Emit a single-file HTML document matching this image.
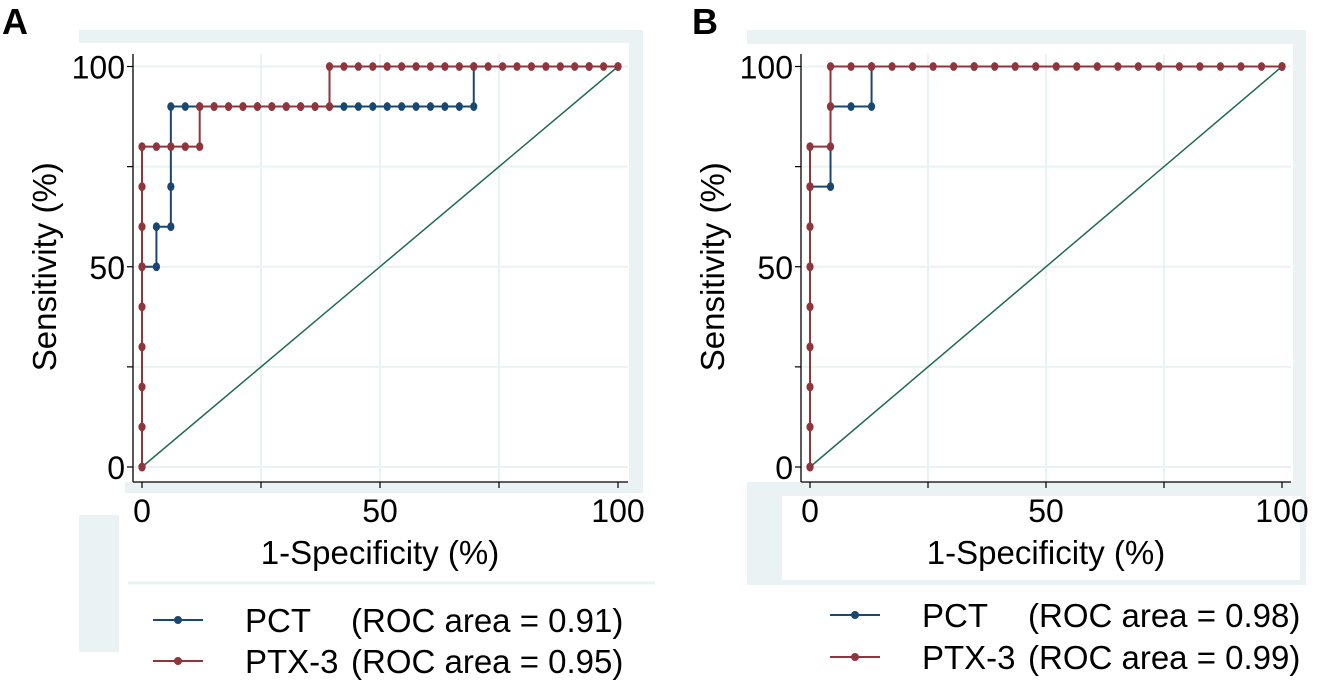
<!DOCTYPE html>
<html><head><meta charset="utf-8"><style>
html,body{margin:0;padding:0;background:#fff}
svg{display:block}
text{font-family:"Liberation Sans",Arial,sans-serif;fill:#000}
</style></head><body>
<svg id="s" width="1317" height="680" viewBox="0 0 1317 680" xmlns="http://www.w3.org/2000/svg">
<rect x="79" y="30" width="564" height="463" fill="#eaf2f3"/>
<rect x="125" y="43" width="504" height="439" fill="#fff"/>
<rect x="79" y="43" width="46" height="472" fill="#fff"/>
<rect x="79" y="515" width="40" height="137" fill="#eaf2f3"/>
<line x1="128" y1="583" x2="655" y2="583" stroke="#eaf2f3" stroke-width="3"/>
<rect x="747" y="30" width="559" height="555" fill="#eaf2f3"/>
<rect x="747" y="44" width="546" height="438" fill="#fff"/>
<rect x="782" y="496" width="518" height="84" fill="#fff"/>
<g id="g"></g>
<text x="2" y="34" font-size="36" font-weight="bold">A</text>
<text x="692" y="34" font-size="36" font-weight="bold">B</text>
</svg>
<script>
const NS="http://www.w3.org/2000/svg",g=document.getElementById('g');
function el(t,a,txt){const e=document.createElementNS(NS,t);for(const k in a)e.setAttribute(k,a[k]);if(txt!==undefined)e.textContent=txt;g.appendChild(e);return e;}
const BLUE="#1a476f",RED="#90353b",GRN="#1e6b52";
function panel(P){
 const X=v=>P.x0+(P.x1-P.x0)*v/100, Y=v=>P.y0+(P.y1-P.y0)*v/100;
 [0,25,50,75,100].forEach(v=>el('line',{x1:P.L,x2:P.R,y1:Y(v),y2:Y(v),stroke:"#eaf2f3","stroke-width":2}));
 [25,50,75].forEach(v=>el('line',{x1:X(v),x2:X(v),y1:P.T,y2:P.B,stroke:"#eaf2f3","stroke-width":2}));
 el('line',{x1:P.L,x2:P.L,y1:P.T,y2:P.B,stroke:"#000","stroke-width":1.3});
 el('line',{x1:P.L,x2:P.R,y1:P.B,y2:P.B,stroke:"#000","stroke-width":1.3});
 [0,25,50,75,100].forEach(v=>{el('line',{x1:P.L-6,x2:P.L,y1:Y(v),y2:Y(v),stroke:"#000","stroke-width":1.2});
   el('line',{x1:X(v),x2:X(v),y1:P.B,y2:P.B+6,stroke:"#000","stroke-width":1.2});});
 [0,50,100].forEach(v=>{el('text',{x:P.L-8,y:Y(v)+12,"font-size":32,"text-anchor":"end"},String(v));
   el('text',{x:X(v),y:P.B+40,"font-size":32,"text-anchor":"middle"},String(v));});
 el('text',{x:(X(0)+X(100))/2,y:P.B+82,"font-size":33,"text-anchor":"middle"},"1-Specificity (%)");
 el('text',{x:0,y:0,"font-size":33,"text-anchor":"middle",transform:`translate(${P.yl},${(Y(0)+Y(100))/2}) rotate(-90)`},"Sensitivity (%)");
 el('line',{x1:X(0),y1:Y(0),x2:X(100),y2:Y(100),stroke:GRN,"stroke-width":1.5});
 function series(pts,c){const d=pts.map((p,i)=>(i?'L':'M')+X(p[0]*100/P.n)+' '+Y(p[1])).join(' ');
  el('path',{d,fill:"none",stroke:c,"stroke-width":2});
  pts.forEach(p=>el('ellipse',{cx:X(p[0]*100/P.n),cy:Y(p[1]),rx:3.6,ry:4.4,fill:c}));}
 series(P.blue,BLUE);series(P.red,RED);
 [[BLUE,P.ly1,P.t1],[RED,P.ly2,P.t2]].forEach(([c,y,t])=>{
  el('line',{x1:P.lx,x2:P.lx+50,y1:y,y2:y,stroke:c,"stroke-width":2});
  el('circle',{cx:P.lx+25,cy:y,r:4,fill:c});
  el('text',{x:P.lx+92,y:y+12,"font-size":33},t[0]);
  el('text',{x:P.lx+198,y:y+12,"font-size":33},t[1]);});
}
let bA=[[0,0],[0,50],[1,50],[1,60],[2,60],[2,70],[2,90]];for(let k=3;k<=23;k++)bA.push([k,90]);bA.push([23,100],[31,100],[33,100]);
let rA=[];for(let v=0;v<=80;v+=10)rA.push([0,v]);for(let k=1;k<=4;k++)rA.push([k,80]);for(let k=4;k<=13;k++)rA.push([k,90]);for(let k=13;k<=33;k++)rA.push([k,100]);
panel({x0:142,x1:618,y0:467,y1:66.5,L:133,R:628,T:54,B:482,n:33,yl:56,blue:bA,red:rA,lx:153,ly1:620,ly2:661,
 t1:["PCT","(ROC area = 0.91)"],t2:["PTX-3","(ROC area = 0.95)"]});
let bB=[[0,0],[0,70],[1,70],[1,90],[2,90],[3,90],[3,100],[8,100],[23,100]];
let rB=[];for(let v=0;v<=80;v+=10)rB.push([0,v]);rB.push([1,80],[1,90]);for(let k=1;k<=23;k++)rB.push([k,100]);
panel({x0:810,x1:1282,y0:467,y1:66.5,L:801,R:1291,T:54,B:482,n:23,yl:724,blue:bB,red:rB,lx:830,ly1:615,ly2:657,
 t1:["PCT","(ROC area = 0.98)"],t2:["PTX-3","(ROC area = 0.99)"]});
</script>
</body></html>
